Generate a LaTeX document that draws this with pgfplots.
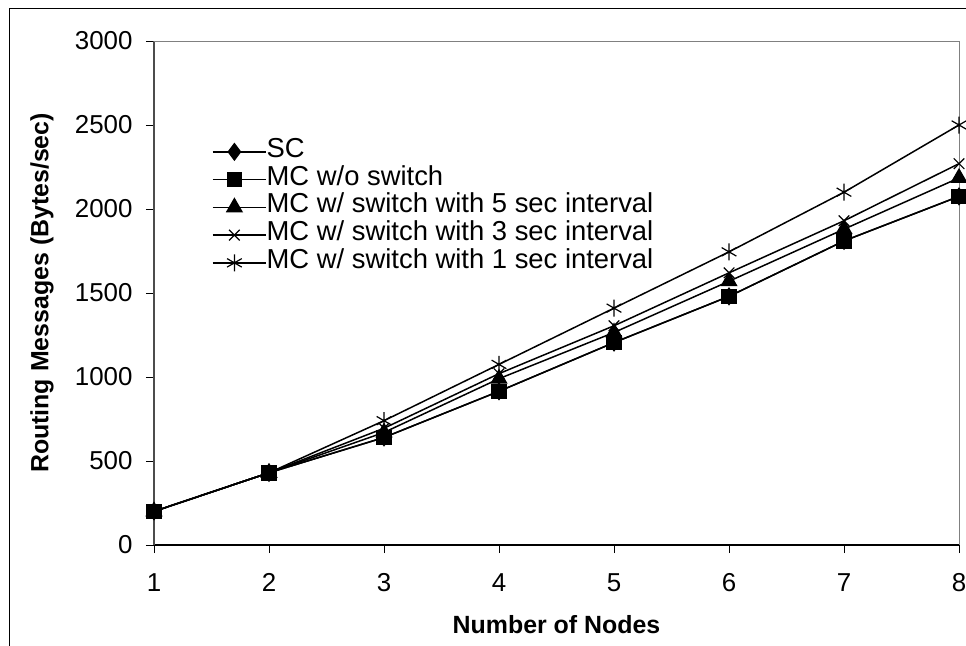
\documentclass[border=0pt]{standalone}
\usepackage{pgfplots}
\pgfplotsset{compat=1.18}
\usepackage{fontspec}
\setmainfont{Liberation Sans}
\begin{document}
\begin{tikzpicture}[x=1bp,y=1bp]
\useasboundingbox (0,0) rectangle (966,-646);
\clip (0,0) rectangle (966,-646);
\draw[black, line width=1bp] (9,-9) rectangle (1000,-700);
\begin{axis}[
  at={(154bp,-545bp)}, anchor=south west,
  scale only axis, width=805bp, height=504bp,
  xmin=1, xmax=8, ymin=0, ymax=3000,
  clip=false,
  axis lines=left, axis line style={-},
  x axis line style={black, line width=1.2bp},
  y axis line style={gray!60!black, line width=1.2bp},
  tick align=outside, major tick length=8bp,
  xtick={1,...,8}, ytick={0,500,...,3000},
  tick style={black, line width=1bp},
  /pgf/number format/assume math mode=true,
  /pgf/number format/1000 sep={},
  scaled y ticks=false,
  ticklabel style={font=\fontsize{26}{30}\selectfont},
  xticklabel style={yshift=-17bp},
  yticklabel style={xshift=-10bp},
  xlabel={Number of Nodes}, ylabel={Routing Messages (Bytes/sec)},
  label style={font=\bfseries\fontsize{25}{29}\selectfont},
  xlabel style={at={(axis description cs:0.5,-0.157)}, anchor=center},
  ylabel style={at={(axis description cs:-0.139,0.5)}, anchor=center},
  every axis plot/.append style={black, line width=1.5bp},
  legend cell align=left,
  legend style={draw=none, fill=none, at={(0.072,0.808)}, anchor=north west,
    font=\fontsize{27.5}{30}\selectfont, inner sep=0pt, row sep=0pt,
    nodes={inner sep=0pt, text height=19.5bp, text depth=8.25bp}},
  legend image code/.code={\draw[mark repeat=2,mark phase=2] plot coordinates {(0bp,0bp) (21.5bp,0bp) (43bp,0bp)};\path (0,0) -- (53bp,0);},
]
\draw[gray, line width=1bp] (rel axis cs:0,1) -- (rel axis cs:1,1) -- (rel axis cs:1,0);
\addplot[mark=diamond*, mark size=8bp, mark options={solid,fill=black}] coordinates {(1,200)(2,430)(3,640)(4,915)(5,1205)(6,1480)(7,1810)(8,2075)};
\addlegendentry{SC}
\addplot[mark=square*, mark size=7bp, mark options={solid,fill=black}] coordinates {(1,200)(2,430)(3,640)(4,915)(5,1205)(6,1480)(7,1810)(8,2075)};
\addlegendentry{MC w/o switch}
\addplot[mark=triangle*, mark size=8.5bp, mark options={solid,fill=black}] coordinates {(1,200)(2,430)(3,670)(4,990)(5,1265)(6,1570)(7,1880)(8,2185)};
\addlegendentry{MC w/ switch with 5 sec interval}
\addplot[mark=x, mark size=7.5bp, mark options={solid, line width=1.2bp}] coordinates {(1,200)(2,430)(3,695)(4,1020)(5,1305)(6,1620)(7,1930)(8,2270)};
\addlegendentry{MC w/ switch with 3 sec interval}
\addplot[mark=asterisk, mark size=8.5bp, mark options={solid, line width=1.2bp}] coordinates {(1,200)(2,430)(3,740)(4,1075)(5,1410)(6,1745)(7,2100)(8,2500)};
\addlegendentry{MC w/ switch with 1 sec interval}
\end{axis}
\end{tikzpicture}
\end{document}
